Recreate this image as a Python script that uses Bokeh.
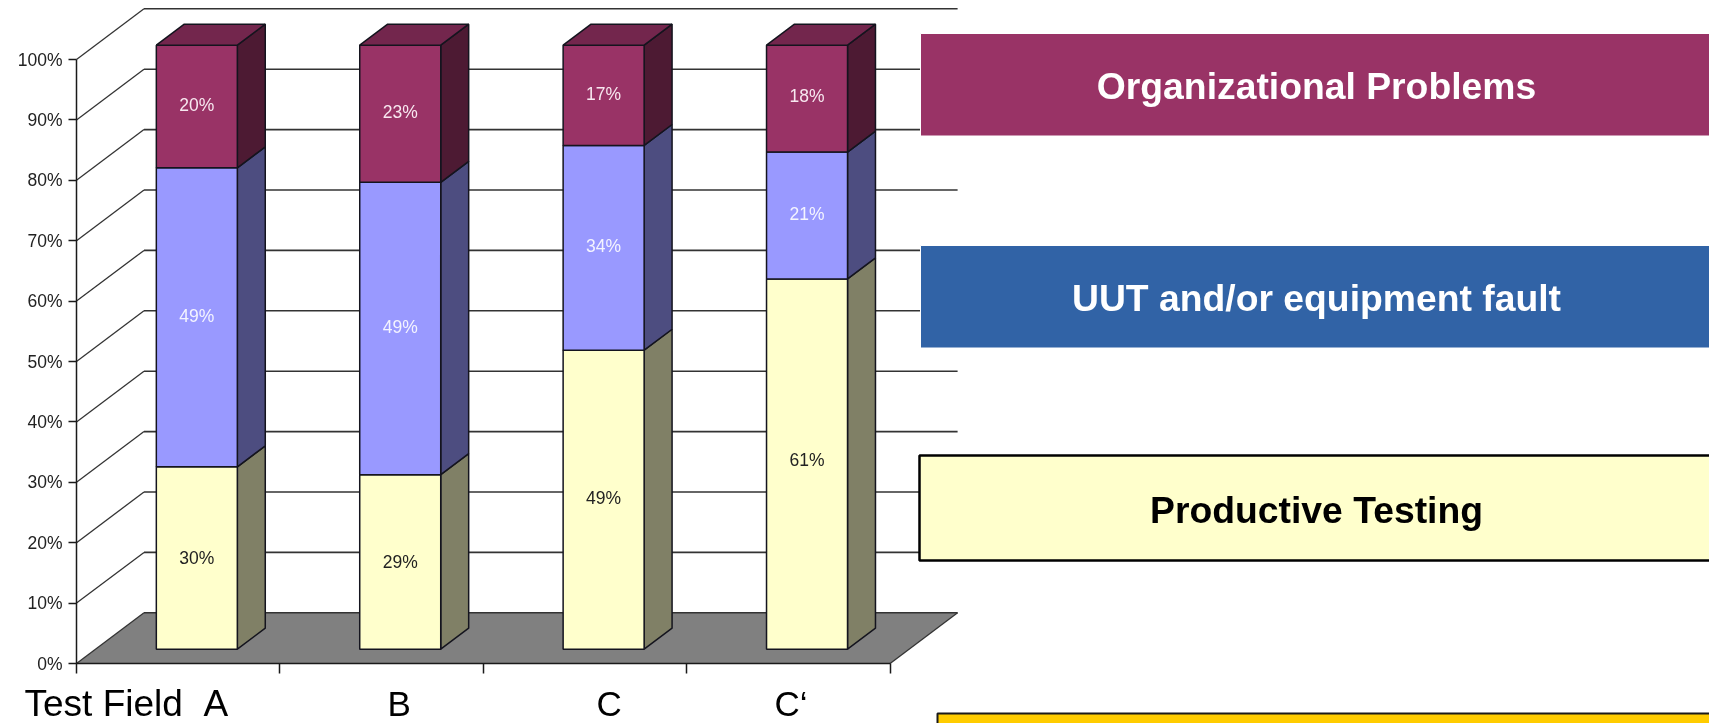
from bokeh.plotting import figure
from bokeh.models import BoxAnnotation, Label, FixedTicker, PrintfTickFormatter
from bokeh.core.properties import value
from bokeh.embed import file_html
from bokeh.resources import INLINE

# ---- data ----
categories = ["Test Field\u00a0\u00a0A", "B", "C", "C‘"]
productive = [30.2, 28.9, 49.5, 61.3]
uut_fault = [49.5, 48.4, 33.9, 21.0]
organizational = [20.3, 22.7, 16.6, 17.7]
productive_labels = ["30%", "29%", "49%", "61%"]
uut_labels = ["49%", "49%", "34%", "21%"]
organizational_labels = ["20%", "23%", "17%", "18%"]
y_ticks = [0, 10, 20, 30, 40, 50, 60, 70, 80, 90, 100]
x_ticks = [0, 1, 2, 3, 4]
legend_titles = ["Organizational Problems", "UUT and/or equipment fault", "Productive Testing"]

# ---- scale geometry ----
W, H = 1709, 723
AX_X, AX_Y = 76, 663          # pixel position of the data origin
PX_X, PX_Y = 203.4, 6.04      # pixels per category, pixels per percent
DX, DY = 67.5 / PX_X, 50.7 / PX_Y   # wall depth in data units
NEAR = 0.282                  # where the bars start in the depth
DEEP = 0.414                  # how deep the bars are
BAR_W = 81 / PX_X


def dx(px):
    return (px - AX_X) / PX_X


def dy(py):
    return (AX_Y - py) / PX_Y


p = figure(width=W, height=H, output_backend="svg", toolbar_location=None,
           x_range=(dx(0), dx(W)), y_range=(dy(H), dy(0)),
           min_border_left=0, min_border_right=0, min_border_top=0,
           min_border_bottom=0, background_fill_color="white",
           border_fill_color="white", outline_line_color=None)
p.styles = {"position": "fixed", "left": "0", "top": "0"}
p.grid.visible = False

# axes
ya = p.yaxis[0]
ya.fixed_location = 0
ya.ticker = FixedTicker(ticks=y_ticks)
ya.formatter = PrintfTickFormatter(format="%d%%")
ya.bounds = (0, 100)
ya.major_tick_in = 0
ya.major_tick_out = 8
ya.minor_tick_line_color = None
ya.major_label_text_font = "Liberation Sans"
ya.major_label_text_font_size = "17.5px"
ya.major_label_text_color = "#222222"
ya.major_label_standoff = 6
ya.axis_line_width = 1.5
ya.major_tick_line_width = 1.5
ya.axis_line_color = "#1a1a1a"
ya.major_tick_line_color = "#1a1a1a"

xa = p.xaxis[0]
xa.fixed_location = 0
xa.ticker = FixedTicker(ticks=x_ticks)
xa.major_label_overrides = {t: "" for t in x_ticks}
xa.bounds = (0, 4)
xa.major_tick_in = 0
xa.major_tick_out = 10
xa.minor_tick_line_color = None
xa.axis_line_width = 1.5
xa.major_tick_line_width = 1.5
xa.axis_line_color = "#1a1a1a"
xa.major_tick_line_color = "#1a1a1a"

# floor
p.patch([0, 4, 4 + DX, DX], [0, 0, DY, DY], fill_color="#808080", line_color=None)

# walls
WALL = "#333333"
p.segment([0] * len(y_ticks), y_ticks, [DX] * len(y_ticks), [v + DY for v in y_ticks],
          line_color=WALL, line_width=1.3)
p.segment([DX] * len(y_ticks), [v + DY for v in y_ticks],
          [4 + DX] * len(y_ticks), [v + DY for v in y_ticks],
          line_color=WALL, line_width=1.6)
p.segment([4], [0], [4 + DX], [DY], line_color=WALL, line_width=1.3)

# bars
series = [
    (productive, productive_labels, "#FFFFCC", "#808066", "#222222"),
    (uut_fault, uut_labels, "#9999FF", "#4D4D80", "#F4F4FF"),
    (organizational, organizational_labels, "#993366", "#4D1A33", "#F8E8F0"),
]
LABEL_NUDGE = {"61%": -4.5, "18%": -2.5, "30%": 0, "29%": 0}
EDGE = "#14141e"
for i in range(len(categories)):
    x0 = i + 0.5 + NEAR * DX - BAR_W / 2 - 0.002
    x1 = x0 + BAR_W
    sx, sy = DEEP * DX, DEEP * DY
    base = NEAR * DY
    for vals, labs, front, side, txt in series:
        top = base + vals[i]
        p.patch([x1, x1 + sx, x1 + sx, x1], [base, base + sy, top + sy, top],
                fill_color=side, line_color=EDGE, line_width=1.5)
        p.quad(left=x0, right=x1, bottom=base, top=top, fill_color=front,
               line_color=EDGE, line_width=1.5)
        p.text([(x0 + x1) / 2], [(base + top) / 2], text=[labs[i]], text_color=txt,
               text_font=value("Liberation Sans"), text_font_size="17.5px",
               text_align="center", text_baseline="middle",
               x_offset=0, y_offset=LABEL_NUDGE.get(labs[i], -1.5))
        base = top
    p.patch([x0, x1, x1 + sx, x0 + sx], [base, base, base + sy, base + sy],
            fill_color="#73264D", line_color=EDGE, line_width=1.5)

# pasted boxes on the right
boxes = [
    (920, 33, 135.5, "#993366", "#ffffff", 1),
    (920, 245, 347.5, "#3163A6", "#ffffff", 1),
    (919, 455, 560, "#FFFFCC", "#000000", 2.5),
    (937, 713, 730, "#FFCC00", "#1a1a1a", 2),
]
for left, t, b, fill, line, lw in boxes:
    p.add_layout(BoxAnnotation(left=dx(left), right=dx(W + 20), top=dy(t), bottom=dy(b),
                               fill_color=fill, fill_alpha=1, line_color=line,
                               line_alpha=1, line_width=lw, level="overlay"))

title_pos = [(1316, 85, "#FFFFFF"), (1316, 297, "#FFFFFF"), (1316, 509, "#000000")]
for title, (x, y, c) in zip(legend_titles, title_pos):
    p.add_layout(Label(x=dx(x), y=dy(y), text=title, text_color=c,
                       text_font="Liberation Sans", text_font_style="bold",
                       text_font_size="37.3px", text_align="center",
                       text_baseline="middle", level="overlay"))

# category captions
caption_x = [24, 387, 596, 774]
caption_size = ["37px", "35px", "35px", "35px"]
for cat, x, size in zip(categories, caption_x, caption_size):
    p.add_layout(Label(x=dx(x), y=dy(702.5), text=cat, text_color="#000000",
                       text_font="Liberation Sans", text_font_size=size,
                       text_align="left", text_baseline="middle", level="overlay"))

open("out.html", "w").write(file_html(p, INLINE))
